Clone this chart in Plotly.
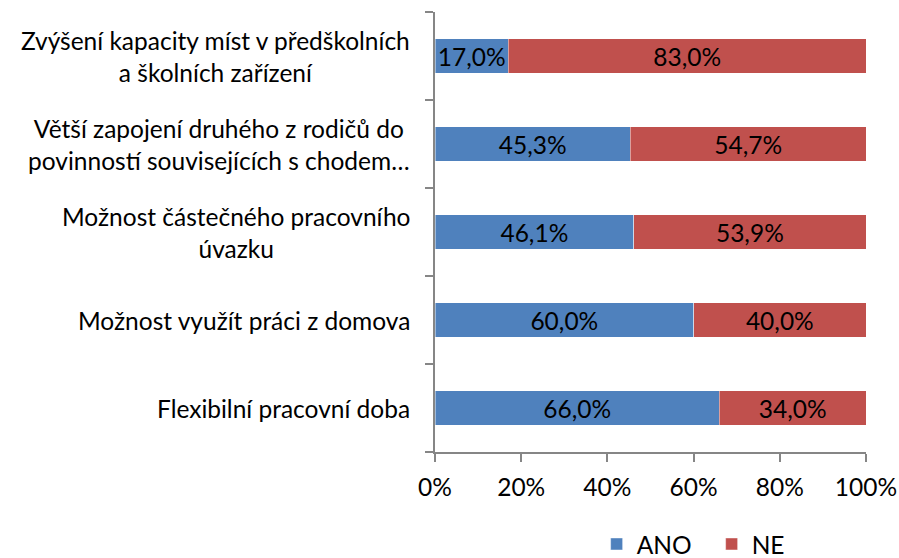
import plotly.graph_objects as go

# Survey answers, listed top to bottom as they appear on the chart
categories = [
    "Zvýšení kapacity míst v předškolních<br>a školních zařízení",
    "Větší zapojení druhého z rodičů do<br>povinností souvisejících s chodem…",
    "Možnost částečného pracovního<br>úvazku",
    "Možnost využít práci z domova",
    "Flexibilní pracovní doba",
]
ano = [17.0, 45.3, 46.1, 60.0, 66.0]
ne = [83.0, 54.7, 53.9, 40.0, 34.0]
x_ticks = [0, 20, 40, 60, 80, 100]
x_tick_labels = [f"{v}%" for v in x_ticks]

FONT = "Lato"
SIZE = 24.5
AXIS_GREY = "#868686"
BLUE = "#4F81BD"
RED = "#C0504D"

pos = list(range(len(categories)))

fig = go.Figure()
for name, vals, color in [("ANO", ano, BLUE), ("NE", ne, RED)]:
    fig.add_trace(go.Bar(
        name=name,
        y=pos,
        x=vals,
        orientation="h",
        width=0.39,
        marker=dict(color=color, line=dict(color="rgba(255,255,255,0.6)", width=0.75)),
        texttemplate="%{x:.1f}%",
        textposition="inside",
        insidetextanchor="middle",
        textfont=dict(family=FONT, size=SIZE, color="black"),
        constraintext="none",
        hoverinfo="skip",
    ))

# Category labels: block right-aligned against the axis, lines centred within it
for p, label in zip(pos, categories):
    fig.add_annotation(
        xref="paper", yref="y", x=0, y=p,
        xshift=-23, xanchor="right", yanchor="middle", align="center",
        text=label, showarrow=False,
        font=dict(family=FONT, size=SIZE, color="black"),
    )

fig.update_layout(
    barmode="stack",
    separators=", ",
    width=899, height=558,
    margin=dict(l=435, r=33, t=12, b=106, autoexpand=False),
    paper_bgcolor="white",
    plot_bgcolor="white",
    font=dict(family=FONT, size=SIZE, color="black"),
    showlegend=True,
    legend=dict(
        orientation="h",
        x=0.375, xanchor="left",
        yref="container",
        y=0.025, yanchor="middle",
        font=dict(family=FONT, size=SIZE, color="black"),
        entrywidth=70,
        traceorder="normal",
    ),
    uniformtext=dict(mode=False),
)

fig.update_xaxes(
    range=[0, 100],
    tickvals=x_ticks,
    ticktext=x_tick_labels,
    showgrid=False,
    zeroline=False,
    showline=True, linecolor=AXIS_GREY, linewidth=1.5,
    ticks="outside", ticklen=8, tickcolor=AXIS_GREY, tickwidth=1.5,
    ticklabelstandoff=5,
    tickfont=dict(family=FONT, size=SIZE, color="black"),
)

fig.update_yaxes(
    range=[len(categories) - 0.5, -0.5],
    tickvals=[i - 0.5 for i in range(len(categories) + 1)],
    showticklabels=False,
    showgrid=False,
    zeroline=False,
    showline=True, linecolor=AXIS_GREY, linewidth=1.5,
    ticks="outside", ticklen=8, tickcolor=AXIS_GREY, tickwidth=1.5,
)

fig.write_html("out.html")
